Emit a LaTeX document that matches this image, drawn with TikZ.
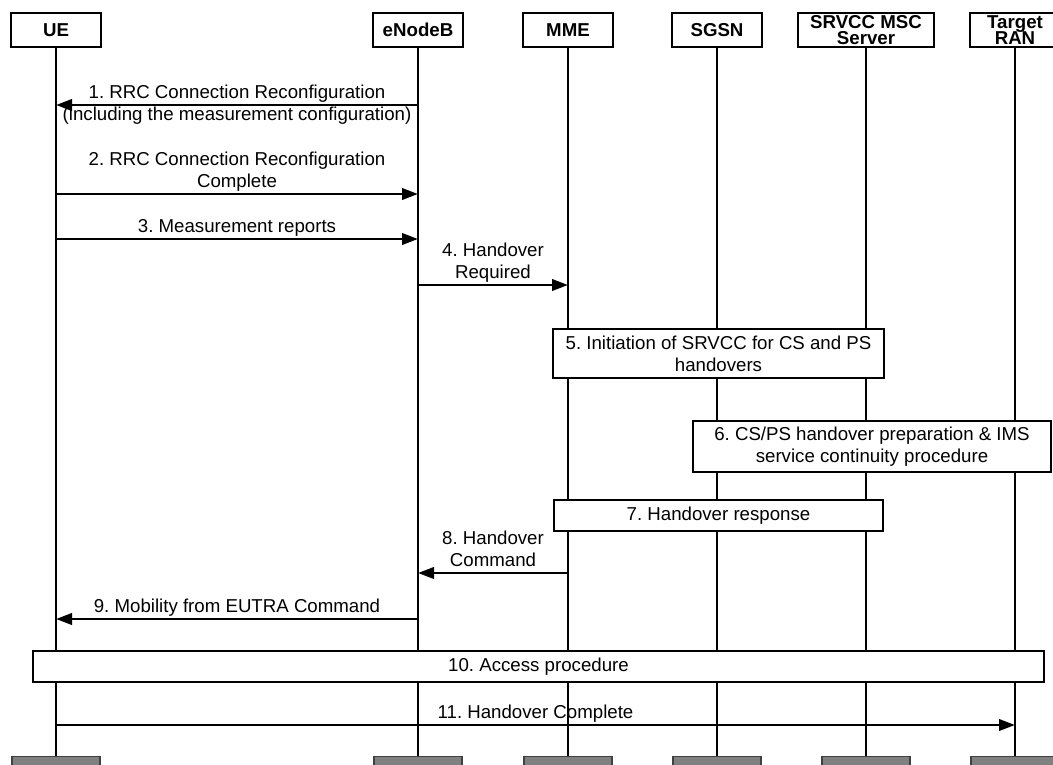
\documentclass[tikz,border=0pt]{standalone}
\usepackage{fontspec}
\setmainfont{Liberation Sans}
\usetikzlibrary{arrows.meta}
\newcommand\tightlines{\lineskiplimit=-20pt\relax}
\frenchspacing
\begin{document}
\begin{tikzpicture}[x=0.75pt,y=-0.75pt,
  every node/.style={font=\fontsize{14pt}{16.5pt}\selectfont},
  entity/.style={draw, line width=1pt, fill=white, minimum width=67.5pt,
    minimum height=25.5pt, inner sep=0pt, align=center,
    font={\bfseries\fontsize{14pt}{11.5pt}\selectfont\tightlines}},
  endbox/.style={draw=black!75, line width=1pt, fill=black!50,
    minimum width=66pt, minimum height=25.5pt, anchor=north},
  lifeline/.style={line width=0.9pt},
  msg/.style={line width=2.1pt, -{Triangle[length=12pt,width=8.5pt]}},
  lbl/.style={above=4pt, inner sep=0pt, text depth=0pt, align=center},
  stepbox/.style={draw, line width=1pt, fill=white, align=center, inner sep=0pt}]

\path[use as bounding box, clip] (0,0) rectangle (1053,764);

% participants
\node[entity] (ue)   at (56,30)   {UE};
\node[entity] (enb)  at (418,30)  {eNodeB};
\node[entity] (mme)  at (568,30)  {MME};
\node[entity] (sgsn) at (717,30)  {SGSN};
\node[entity, minimum width=102pt] (msc) at (866,30) {SRVCC MSC\\Server};
\node[entity] (ran)  at (1015,30) {Target\\RAN};

% participant feet
\node[endbox] (ueF)   at (56,756)   {};
\node[endbox] (enbF)  at (418,756)  {};
\node[endbox] (mmeF)  at (568,756)  {};
\node[endbox] (sgsnF) at (717,756)  {};
\node[endbox] (mscF)  at (866,756)  {};
\node[endbox] (ranF)  at (1015,756) {};

% lifelines
\draw[lifeline] (ue.south)   -- (ueF.north);
\draw[lifeline] (enb.south)  -- (enbF.north);
\draw[lifeline] (mme.south)  -- (mmeF.north);
\draw[lifeline] (sgsn.south) -- (sgsnF.north);
\draw[lifeline] (msc.south)  -- (mscF.north);
\draw[lifeline] (ran.south)  -- (ranF.north);

% message rows
\coordinate (r1)  at (0,105);
\coordinate (r2)  at (0,194);
\coordinate (r3)  at (0,239);
\coordinate (r4)  at (0,285);
\coordinate (r8)  at (0,573);
\coordinate (r9)  at (0,619);
\coordinate (r11) at (0,725);

% messages
\draw[msg] (enb |- r1) -- (ue |- r1)
  node[midway, inner sep=0pt, align=center, yshift=0pt]
  {1. RRC Connection Reconfiguration\\(including the measurement configuration)};
\draw[msg] (ue |- r2) -- (enb |- r2)
  node[lbl, midway] {2. RRC Connection Reconfiguration\\Complete};
\draw[msg] (ue |- r3) -- (enb |- r3)
  node[lbl, midway] {3. Measurement reports};
\draw[msg] (enb |- r4) -- (mme |- r4)
  node[lbl, midway] {4. Handover\\Required};

% procedures
\node[stepbox, minimum width=331*0.75pt, minimum height=49*0.75pt] (p5) at (718.5,353.5)
  {5. Initiation of SRVCC for CS and PS\\handovers};
\node[stepbox, minimum width=358*0.75pt, minimum height=51*0.75pt] (p6) at (872,446.5)
  {6. CS/PS handover preparation \& IMS\\service continuity procedure};
\node[stepbox, minimum width=329*0.75pt, minimum height=31*0.75pt] (p7) at (718.5,515.5)
  {7. Handover response};

\draw[msg] (mme |- r8) -- (enb |- r8)
  node[lbl, midway] {8. Handover\\Command};
\draw[msg] (enb |- r9) -- (ue |- r9)
  node[lbl, midway] {9. Mobility from EUTRA Command};

\node[stepbox, minimum width=1011*0.75pt, minimum height=31*0.75pt] (p10) at (538.5,666.5)
  {10. Access procedure};

\draw[msg] (ue |- r11) -- (ran |- r11)
  node[lbl, midway] {11. Handover Complete};
\end{tikzpicture}
\end{document}
